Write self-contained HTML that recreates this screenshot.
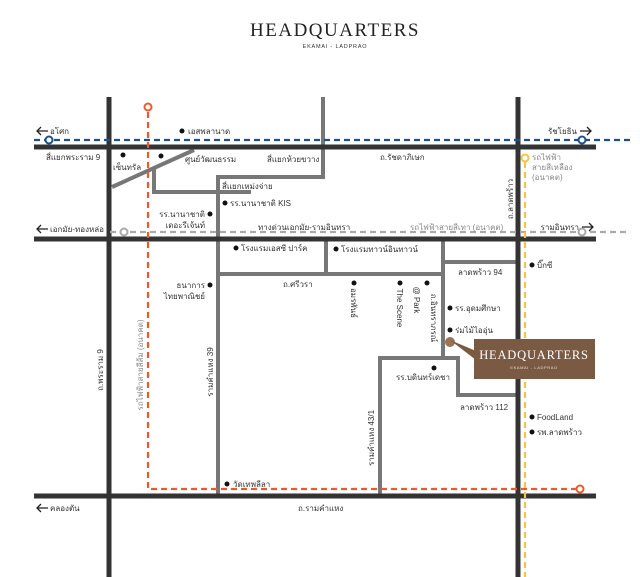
<!DOCTYPE html>
<html><head><meta charset="utf-8"><style>
html,body{margin:0;padding:0;background:#fff;}
svg{display:block;}
text{font-family:"Liberation Sans","Noto Sans CJK SC",sans-serif;font-size:8px;fill:#333;}
.g{fill:#888;}
</style></head><body>
<svg width="640" height="577" viewBox="0 0 640 577" xmlns="http://www.w3.org/2000/svg">
<rect width="640" height="577" fill="#fff"/>
<text x="335" y="36" text-anchor="middle" style="font-family:'Liberation Serif',serif;font-size:19px;letter-spacing:1.5px;fill:#222">HEADQUARTERS</text>
<text x="335" y="48" text-anchor="middle" style="font-size:5.5px;letter-spacing:0.8px;fill:#333">EKAMAI - LADPRAO</text>

<g stroke="#777" stroke-width="4" fill="none">
<line x1="112" y1="187" x2="194" y2="150"/>
<polyline points="154,169 154,192 251,192"/>
<polyline points="218,496 218,177 323,177 323,97"/>
<line x1="218" y1="274" x2="443" y2="274"/>
<line x1="326" y1="239" x2="326" y2="274"/>
<polyline points="443,239 443,358 380,358 380,496"/>
<polyline points="443,358 458,358 458,395 518,395"/>
<line x1="443" y1="262" x2="518" y2="262"/>
</g>
<g stroke="#333" stroke-width="5" fill="none">
<line x1="34" y1="147" x2="596" y2="147"/>
<line x1="34" y1="239" x2="596" y2="239"/>
<line x1="34" y1="496" x2="596" y2="496"/>
<line x1="109" y1="97" x2="109" y2="577"/>
<line x1="518" y1="97" x2="518" y2="577"/>
</g>
<g fill="none" stroke-width="2.2" stroke-dasharray="6,4">
<line x1="34" y1="140" x2="630" y2="140" stroke="#1d4f8c"/>
<line x1="110" y1="232" x2="630" y2="232" stroke="#aaa"/>
<polyline points="148,112 148,489 580,489" stroke="#ec5a2c"/>
<line x1="525" y1="162" x2="525" y2="577" stroke="#f5c443"/>
</g>
<g fill="#fff" stroke-width="2">
<circle cx="49" cy="140" r="3.5" stroke="#1d4f8c"/>
<circle cx="582" cy="140" r="3.5" stroke="#1d4f8c"/>
<circle cx="124" cy="232" r="3.5" stroke="#aaa"/>
<circle cx="582" cy="232" r="3.5" stroke="#aaa"/>
<circle cx="148" cy="107" r="3.5" stroke="#ec5a2c"/>
<circle cx="580" cy="489" r="3.5" stroke="#ec5a2c"/>
<circle cx="525" cy="158" r="3.5" stroke="#f5c443"/>
</g>

<g stroke="#222" stroke-width="1.3" fill="none">
<path d="M48 131H37M41 127L37 131L41 135"/>
<path d="M48 229H37M41 225L37 229L41 233"/>
<path d="M48 508H37M41 504L37 508L41 512"/>
<path d="M580 131H591M587 127L591 131L587 135"/>
<path d="M582 227H593M589 223L593 227L589 231"/>
</g>

<circle cx="450" cy="342" r="5" fill="#9b7356"/>
<polygon points="450,340 476,351 476,360" fill="#7a5a43"/>
<rect x="474" y="339" width="121" height="40" fill="#7a5a43"/>
<text x="534" y="359" text-anchor="middle" style="font-family:'Liberation Serif',serif;font-size:12.5px;letter-spacing:0.8px;fill:#fff">HEADQUARTERS</text>
<text x="534" y="369" text-anchor="middle" style="font-size:4px;letter-spacing:0.6px;fill:#e8dccf">EKAMAI - LADPRAO</text>

<g fill="#111">
<circle cx="182" cy="131" r="2.5"/><circle cx="123" cy="155" r="2.5"/><circle cx="161" cy="156" r="2.5"/>
<circle cx="225" cy="203" r="2.5"/><circle cx="210" cy="214" r="2.5"/><circle cx="236" cy="248" r="2.5"/>
<circle cx="336" cy="249" r="2.5"/><circle cx="532" cy="265" r="2.5"/><circle cx="210" cy="285" r="2.5"/>
<circle cx="354" cy="283" r="2.5"/><circle cx="400" cy="283" r="2.5"/><circle cx="427" cy="283" r="2.5"/>
<circle cx="450" cy="308" r="2.5"/><circle cx="450" cy="330" r="2.5"/><circle cx="434" cy="368" r="2.5"/>
<circle cx="532" cy="417" r="2.5"/><circle cx="532" cy="432" r="2.5"/><circle cx="227" cy="484" r="2.5"/>
</g>

<text x="50" y="134">อโศก</text>
<text x="188" y="134">เอสพลานาด</text>
<text x="46" y="160">สี่แยกพระราม 9</text>
<text x="113" y="170">เซ็นทรัล</text>
<text x="185" y="162">ศูนย์วัฒนธรรม</text>
<text x="267" y="162">สี่แยกห้วยขวาง</text>
<text x="380" y="160">ถ.รัชดาภิเษก</text>
<text x="577" y="134" text-anchor="end">รัชโยธิน</text>
<text x="532" y="160" class="g">รถไฟฟ้า</text>
<text x="532" y="170" class="g">สายสีเหลือง</text>
<text x="532" y="180" class="g">(อนาคต)</text>
<text x="222" y="189">สี่แยกเหม่งจ่าย</text>
<text x="230" y="206">รร.นานาชาติ KIS</text>
<text x="205" y="217" text-anchor="end">รร.นานาชาติ</text>
<text x="205" y="228" text-anchor="end">เดอะรีเจ้นท์</text>
<text x="50" y="232">เอกมัย-ทองหล่อ</text>
<text x="258" y="230">ทางด่วนเอกมัย-รามอินทรา</text>
<text x="410" y="230" class="g">รถไฟฟ้าสายสีเทา (อนาคต)</text>
<text x="579" y="230" text-anchor="end">รามอินทรา</text>
<text x="241" y="251">โรงแรมเอสซี ปาร์ค</text>
<text x="341" y="252">โรงแรมทาวน์อินทาวน์</text>
<text x="458" y="275">ลาดพร้าว 94</text>
<text x="537" y="268">บิ๊กซี</text>
<text x="283" y="287">ถ.ศรีวรา</text>
<text x="205" y="288" text-anchor="end">ธนาการ</text>
<text x="205" y="299" text-anchor="end">ไทยพาณิชย์</text>
<text x="455" y="311">รร.อุดมศึกษา</text>
<text x="455" y="333">ร่มไม้ไออุ่น</text>
<text x="396" y="380">รร.บดินทร์เดชา</text>
<text x="460" y="410">ลาดพร้าว 112</text>
<text x="537" y="420">FoodLand</text>
<text x="537" y="435">รพ.ลาดพร้าว</text>
<text x="233" y="487">วัดเทพลีลา</text>
<text x="50" y="511">คลองตัน</text>
<text x="298" y="511">ถ.รามคำแหง</text>

<text transform="translate(513,199) rotate(-90)" text-anchor="middle">ถ.ลาดพร้าว</text>
<text transform="translate(103,370) rotate(-90)" text-anchor="middle">ถ.พระราม 9</text>
<text class="g" transform="translate(143,365) rotate(-90)" text-anchor="middle">รถไฟฟ้าสายสีส้ม (อนาคต)</text>
<text transform="translate(213,372) rotate(-90)" text-anchor="middle">รามคำแหง 39</text>
<text transform="translate(374,438) rotate(-90)" text-anchor="middle">รามคำแหง 43/1</text>
<text transform="translate(351,303) rotate(90)" text-anchor="middle">อมรพันธ์</text>
<text transform="translate(397,308) rotate(90)" text-anchor="middle">The Scene</text>
<text transform="translate(414,300) rotate(90)" text-anchor="middle">@ Park</text>
<text transform="translate(431,318) rotate(90)" text-anchor="middle">ถ.อินทราภรณ์</text>
</svg>
</body></html>
